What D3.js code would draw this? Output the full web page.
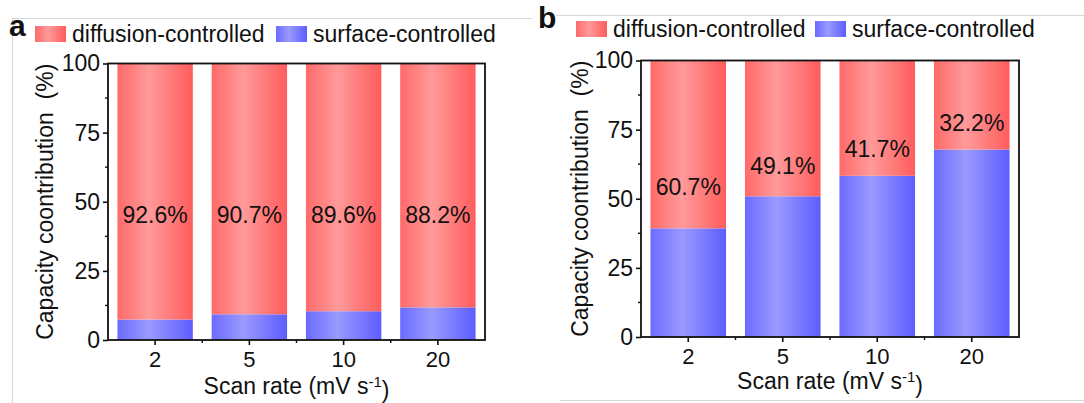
<!DOCTYPE html>
<html>
<head>
<meta charset="utf-8">
<script src="https://cdn.jsdelivr.net/npm/d3@7"></script>
<style>
  body { margin: 0; background: #fff; }
  svg text { font-family: Arial, "Liberation Sans", sans-serif; fill: #111; }
</style>
</head>
<body>
<div id="chart"></div>
<script>
// data
var scanRates = ["2", "5", "10", "20"];
var surfaceA = [7.4, 9.3, 10.4, 11.8];
var diffusionA = [92.6, 90.7, 89.6, 88.2];
var surfaceB = [39.3, 50.9, 58.3, 67.8];
var diffusionB = [60.7, 49.1, 41.7, 32.2];
// where the % labels sit (in axis units)
var labelAtA = [45.3, 45.3, 45.3, 45.3];
var labelAtB = [54.2, 62.1, 68.2, 77.6];
var yTicks = [0, 25, 50, 75, 100];
var yMinor = [12.5, 37.5, 62.5, 87.5];
var seriesNames = ["diffusion-controlled", "surface-controlled"];

var W = 1084, H = 403;
var svg = d3.select("#chart").append("svg")
    .attr("width", W)
    .attr("height", H);

// faint crop borders from the original figure
var border = svg.append("g").attr("stroke", "#d6d6d6").attr("stroke-width", 1).attr("fill", "none");
border.append("line").attr("x1", 12).attr("y1", 18.5).attr("x2", 532).attr("y2", 18.5);
border.append("line").attr("x1", 12.5).attr("y1", 18).attr("x2", 12.5).attr("y2", H);
border.append("line").attr("x1", 556).attr("y1", 15.5).attr("x2", W).attr("y2", 15.5);
border.append("line").attr("x1", 560).attr("y1", 400.5).attr("x2", W).attr("y2", 400.5);

// horizontal bar gradients
var defs = svg.append("defs");
function makeGrad(id, edgeL, mid, edgeR) {
    var g = defs.append("linearGradient").attr("id", id)
        .attr("x1", "0%").attr("x2", "100%").attr("y1", "0%").attr("y2", "0%");
    g.append("stop").attr("offset", "0%").attr("stop-color", edgeL);
    g.append("stop").attr("offset", "42%").attr("stop-color", mid);
    g.append("stop").attr("offset", "100%").attr("stop-color", edgeR);
}
makeGrad("gradRed", "#ff6a6a", "#ff9a9a", "#ff5c5c");
makeGrad("gradBlue", "#6b6bff", "#9a9aff", "#5d5dff");
var fills = {"diffusion-controlled": "url(#gradRed)", "surface-controlled": "url(#gradBlue)"};

function drawPanel(opt) {
    var g = svg.append("g");
    var x = d3.scaleBand().domain(scanRates)
        .range([opt.left, opt.right])
        .paddingInner(0.2).paddingOuter(0.1);
    var y = d3.scaleLinear().domain([0, 100]).range([opt.bottom, opt.top]);

    var rows = scanRates.map(function (r, i) {
        return {rate: r, "surface-controlled": opt.surface[i], "diffusion-controlled": opt.diffusion[i]};
    });
    var stack = d3.stack().keys(["surface-controlled", "diffusion-controlled"]);
    var layers = stack(rows);

    g.selectAll("g.layer")
        .data(layers)
        .enter().append("g")
        .attr("class", "layer")
        .attr("fill", function (d) { return fills[d.key]; })
        .selectAll("rect")
        .data(function (d) { return d; })
        .enter().append("rect")
        .attr("x", function (d) { return x(d.data.rate); })
        .attr("width", x.bandwidth())
        .attr("y", function (d) { return y(d[1]); })
        .attr("height", function (d) { return y(d[0]) - y(d[1]); });

    // % labels
    g.selectAll("text.pct")
        .data(scanRates)
        .enter().append("text")
        .attr("class", "pct")
        .attr("x", function (d) { return x(d) + x.bandwidth() / 2; })
        .attr("y", function (d, i) { return y(opt.labelAt[i]); })
        .attr("dy", "0.36em")
        .attr("text-anchor", "middle")
        .style("font-size", "23px")
        .text(function (d, i) { return opt.diffusion[i].toFixed(1) + "%"; });

    // frame
    g.append("rect")
        .attr("x", opt.left).attr("y", opt.top)
        .attr("width", opt.right - opt.left).attr("height", opt.bottom - opt.top)
        .attr("fill", "none").attr("stroke", "#111").attr("stroke-width", 1.8);

    // y axis
    var yAxis = d3.axisLeft(y).tickValues(yTicks).tickSize(5).tickPadding(3);
    var ya = g.append("g").attr("transform", "translate(" + opt.left + ",0)").call(yAxis);
    ya.select(".domain").remove();
    ya.selectAll("line").attr("stroke", "#111").attr("stroke-width", 1.6);
    ya.selectAll("text").style("font-size", "23px").attr("fill", "#111");
    g.append("g").selectAll("line")
        .data(yMinor)
        .enter().append("line")
        .attr("x1", opt.left - 3).attr("x2", opt.left)
        .attr("y1", function (d) { return y(d); }).attr("y2", function (d) { return y(d); })
        .attr("stroke", "#111").attr("stroke-width", 1.4);

    // x axis
    var xAxis = d3.axisBottom(x).tickSize(5).tickPadding(6);
    var xa = g.append("g").attr("transform", "translate(0," + opt.bottom + ")").call(xAxis);
    xa.select(".domain").remove();
    xa.selectAll("line").attr("stroke", "#111").attr("stroke-width", 1.6);
    xa.selectAll("text").style("font-size", "22px").attr("fill", "#111");
    var mids = scanRates.slice(1).map(function (d) { return x(d) - x.step() * x.paddingInner() / 2; });
    g.append("g").selectAll("line")
        .data(mids)
        .enter().append("line")
        .attr("x1", function (d) { return d; }).attr("x2", function (d) { return d; })
        .attr("y1", opt.bottom).attr("y2", opt.bottom + 3)
        .attr("stroke", "#111").attr("stroke-width", 1.4);

    // axis titles
    var cx = (opt.left + opt.right) / 2;
    var xt = g.append("text")
        .attr("x", cx).attr("y", opt.xTitleY)
        .attr("text-anchor", "middle")
        .style("font-size", "23px");
    xt.append("tspan").text("Scan rate (mV s");
    xt.append("tspan").attr("dy", "-0.45em").style("font-size", "15px").text("-1");
    xt.append("tspan").attr("dy", "0.45em").text(")");

    g.append("text")
        .attr("transform", "translate(" + opt.yTitleX + "," + ((opt.top + opt.bottom) / 2) + ") rotate(-90)")
        .attr("text-anchor", "middle")
        .attr("xml:space", "preserve")
        .style("white-space", "pre")
        .style("font-size", "23px")
        .text("Capacity coontribution  (%)");

    // panel letter
    g.append("text")
        .attr("x", opt.letterX).attr("y", opt.letterY)
        .style("font-size", "30px").style("font-weight", "bold")
        .text(opt.letter);

    // legend
    var lg = g.append("g");
    seriesNames.forEach(function (name, i) {
        var lx = opt.legendX[i];
        lg.append("rect")
            .attr("x", lx).attr("y", opt.legendY - 8)
            .attr("width", 31).attr("height", 16)
            .attr("fill", fills[name]);
        lg.append("text")
            .attr("x", lx + 37).attr("y", opt.legendY)
            .attr("dy", "0.35em")
            .style("font-size", "23px")
            .text(name);
    });
}

drawPanel({
    letter: "a", letterX: 9, letterY: 36,
    left: 108, right: 485, top: 63.5, bottom: 340,
    surface: surfaceA, diffusion: diffusionA, labelAt: labelAtA,
    legendX: [35, 276], legendY: 34,
    yTitleX: 53, xTitleY: 394
});

drawPanel({
    letter: "b", letterX: 538, letterY: 28,
    left: 641, right: 1019, top: 60.5, bottom: 337,
    surface: surfaceB, diffusion: diffusionB, labelAt: labelAtB,
    legendX: [576, 815], legendY: 29,
    yTitleX: 588, xTitleY: 389
});
</script>
</body>
</html>
